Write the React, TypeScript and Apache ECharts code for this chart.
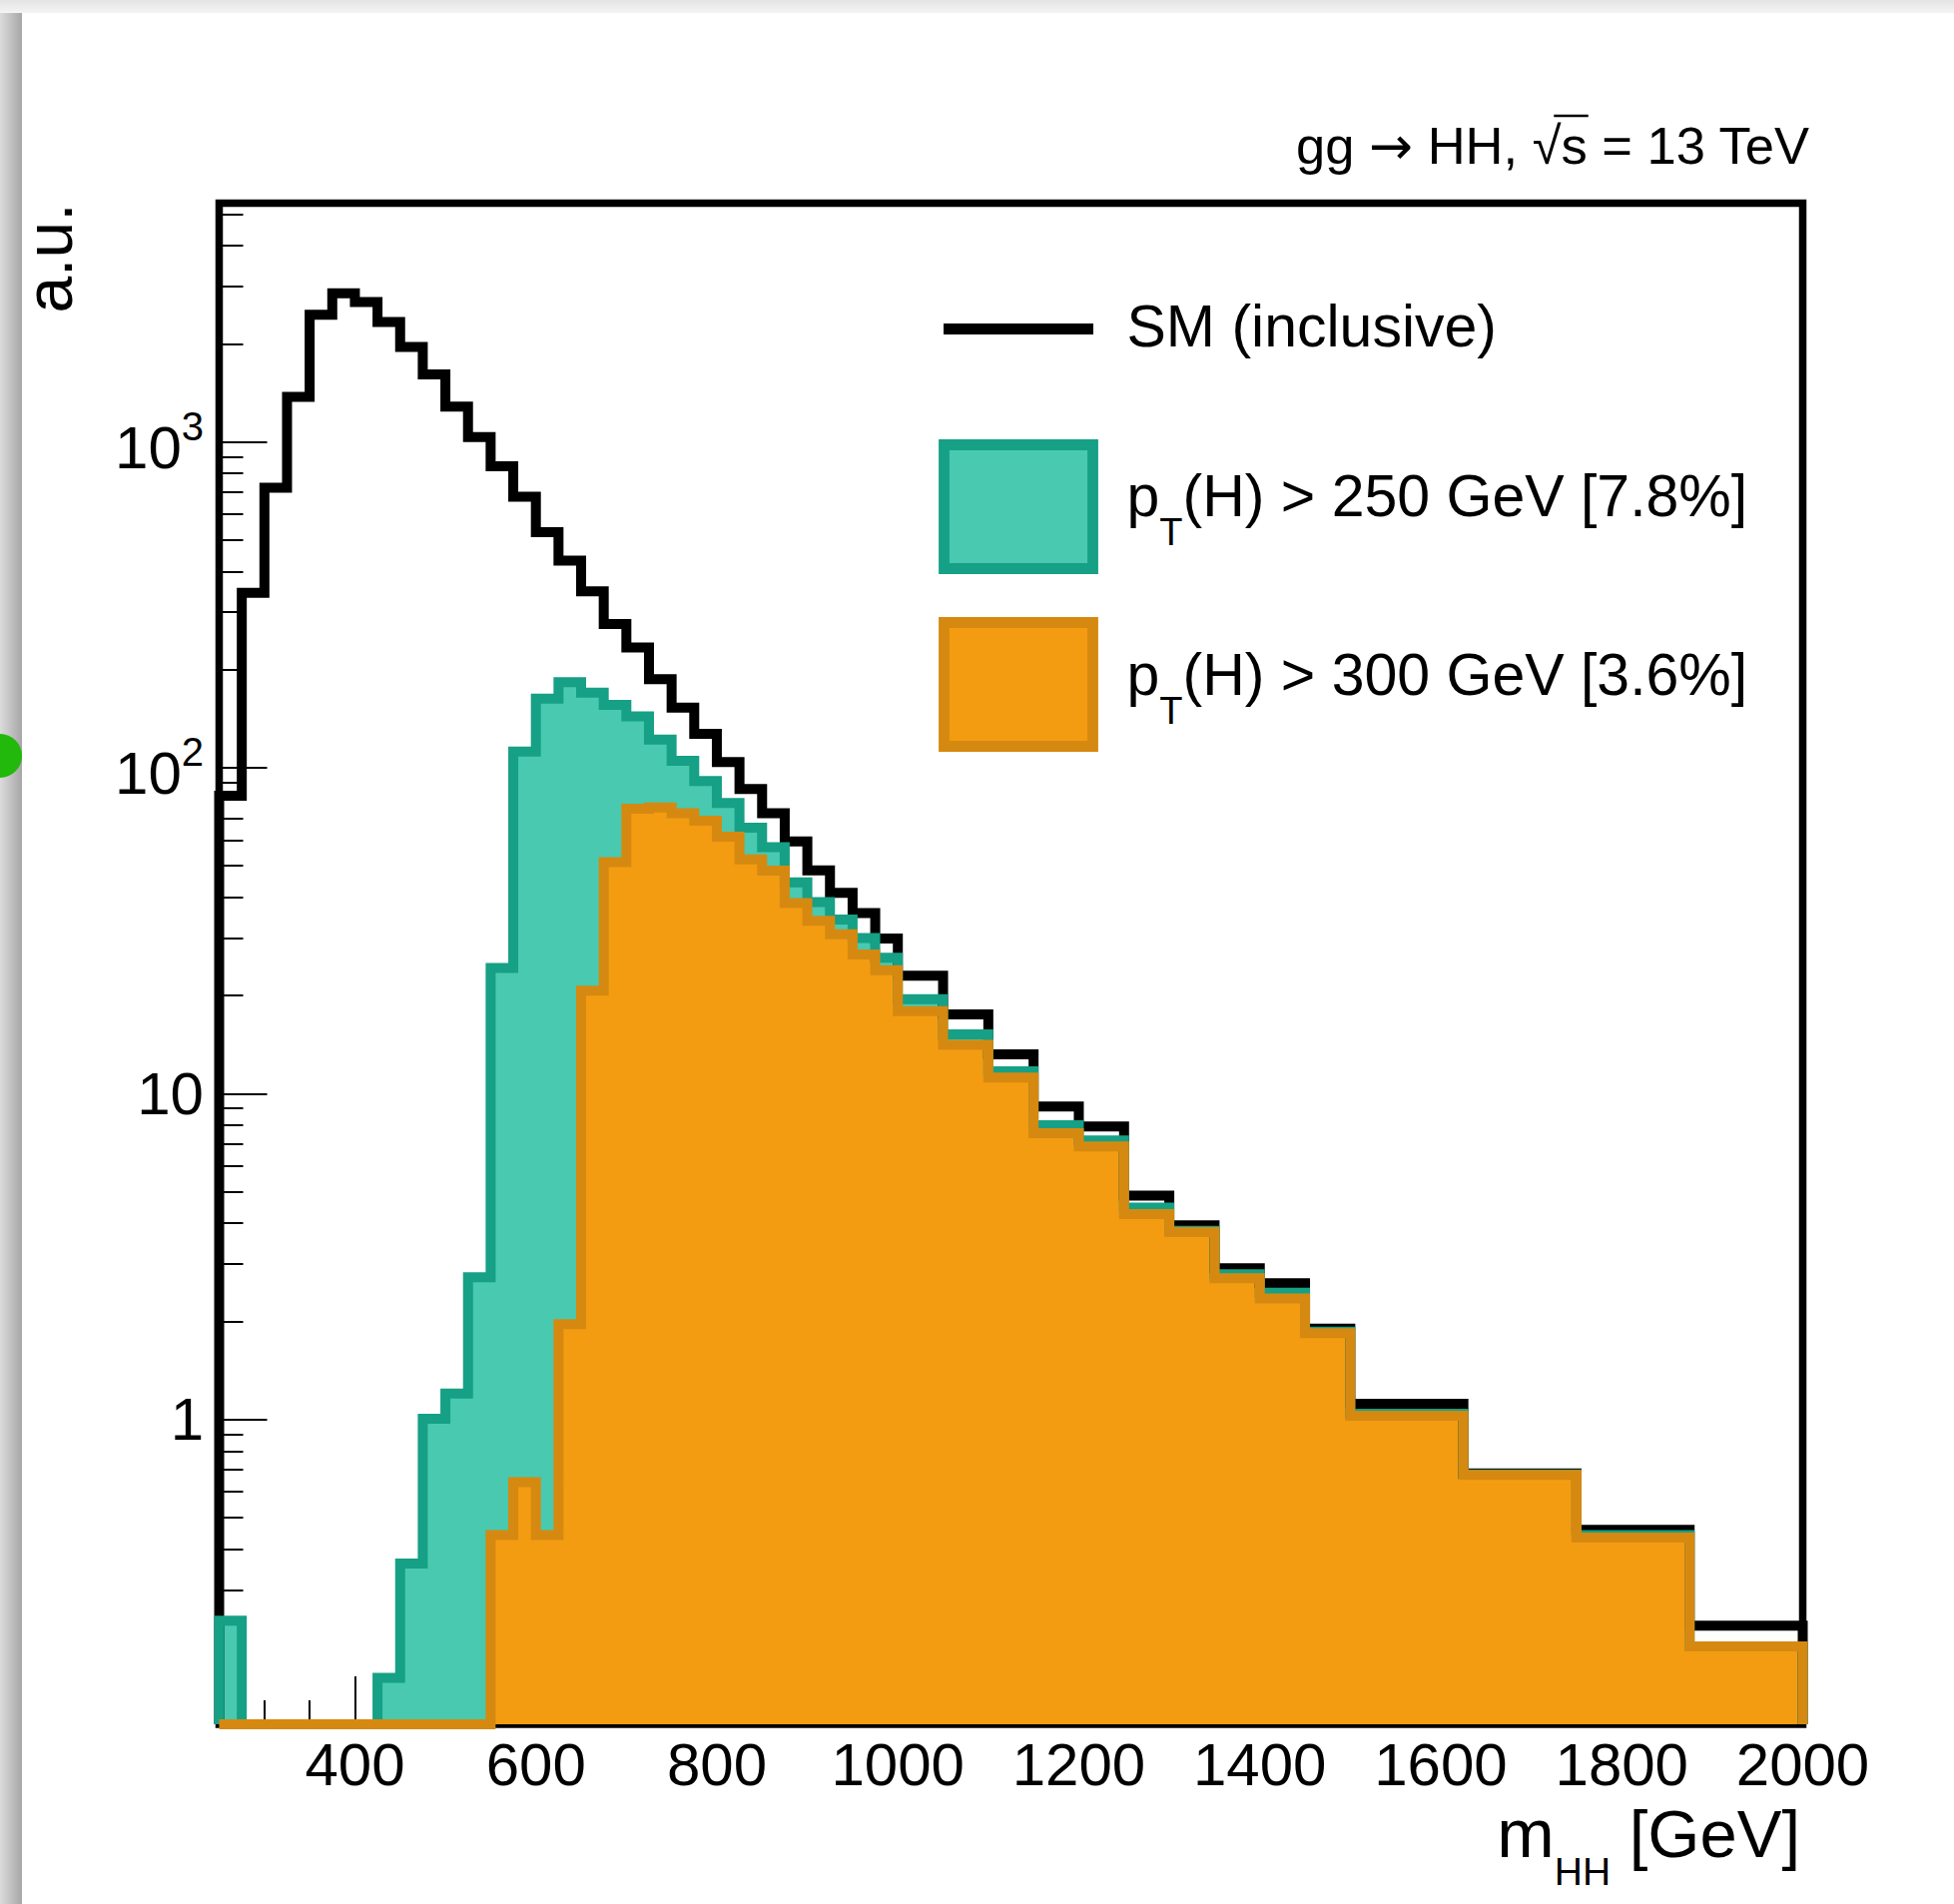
import React, { useEffect, useRef } from 'react';
import * as echarts from 'echarts';

const FONT = '"Liberation Sans", Arial, Helvetica, sans-serif';
const ARROW_FONT = '"DejaVu Sans", "Liberation Sans", sans-serif';

// histogram bin edges (GeV)
const binEdges = [
  250, 275, 300, 325, 350, 375, 400, 425, 450, 475, 500, 525, 550, 575, 600, 625, 650, 675, 700, 725,
  750, 775, 800, 825, 850, 875, 900, 925, 950, 975, 1000, 1050, 1100, 1150, 1200, 1250, 1300, 1350,
  1400, 1450, 1500, 1625, 1750, 1875, 2000,
];

// SM (inclusive)
const smValues = [
  82, 344, 723, 1375, 2455, 2855, 2688, 2334, 1956, 1609, 1282, 1034, 841, 679, 528, 432, 348, 276, 234, 187,
  153, 127, 104, 86, 72.5, 59.4, 48.4, 41.3, 35.8, 29.9, 23.0, 17.5, 13.2, 9.12, 7.92, 4.86, 3.94, 2.91,
  2.62, 1.9, 1.117, 0.683, 0.458, 0.233,
];

// pT(H) > 250 GeV
const pt250Values = [
  0.241, 0, 0, 0, 0, 0, 0, 0.161, 0.361, 1.004, 1.2, 2.73, 24.3, 112, 163, 183, 170, 156, 143.6, 122,
  105, 91, 78, 65.5, 57, 44.5, 38.7, 34.2, 30.0, 26.1, 19.5, 15.2, 11.7, 8.0, 7.18, 4.47, 3.79, 2.79,
  2.45, 1.86, 1.04, 0.678, 0.442, 0.201,
];

// pT(H) > 300 GeV
const pt300Values = [
  0, 0, 0, 0, 0, 0, 0, 0, 0, 0, 0, 0, 0.442, 0.642, 0.442, 1.96, 20.7, 51.3, 74.9, 75.5,
  72.5, 68.7, 61.4, 52.3, 48.3, 38.4, 33.9, 30.8, 26.7, 23.9, 17.9, 14.1, 11.2, 7.55, 6.88, 4.27, 3.76, 2.71,
  2.35, 1.84, 1.026, 0.675, 0.434, 0.201,
];

const xTickLabels = [400, 600, 800, 1000, 1200, 1400, 1600, 1800, 2000];
const xMinorTicks = [
  300, 350, 450, 500, 550, 650, 700, 750, 850, 900, 950, 1050, 1100, 1150, 1250, 1300, 1350,
  1450, 1500, 1550, 1650, 1700, 1750, 1850, 1900, 1950,
];
const yTickLabels = [1, 10, 100, 1000];
const yMinorTicks = [
  0.2, 0.3, 0.4, 0.5, 0.6, 0.7, 0.8, 0.9, 2, 3, 4, 5, 6, 7, 8, 9, 20, 30, 40, 50, 60, 70, 80, 90,
  200, 300, 400, 500, 600, 700, 800, 900, 2000, 3000, 4000, 5000,
];

const X_MIN = 250;
const X_MAX = 2000;
const Y_MIN = 0.116;
const Y_MAX = 5400;

const legendLabels = ['SM (inclusive)', '(H) > 250 GeV [7.8%]', '(H) > 300 GeV [3.6%]'];
const topTextParts = ['gg ', '\u2192', ' HH, \u221As = 13 TeV'];

const TEAL_FILL = '#48c9b0';
const TEAL_LINE = '#16a085';
const ORANGE_FILL = '#f39c12';
const ORANGE_LINE = '#d68910';

const GRID = { left: 219.5, top: 203.5, width: 1586, height: 1523.5 };
const CK = 0.3465; // central baseline offset (em) for Liberation Sans

let measureCtx: CanvasRenderingContext2D | null = null;
function textWidth(t: string, size: number, family = FONT): number {
  if (!measureCtx) measureCtx = document.createElement('canvas').getContext('2d');
  measureCtx!.font = `${size}px ${family}`;
  return measureCtx!.measureText(t).width;
}

function textEl(t: string, x: number, baseline: number, size: number, align = 'left', family = FONT) {
  return {
    type: 'text',
    x,
    y: baseline - CK * size,
    z: 100,
    silent: true,
    style: {
      text: t,
      font: `${size}px ${family}`,
      fill: '#000',
      align,
      textAlign: align,
      verticalAlign: 'middle',
      textVerticalAlign: 'middle',
    },
  };
}

type Piece = [string, number, number, string?];

function layoutPieces(pieces: Piece[], x0: number, alignRight = false) {
  const widths = pieces.map(([t, s, , f]) => textWidth(t, s, f || FONT));
  const total = widths.reduce((a, b) => a + b, 0);
  const starts: number[] = [];
  let x = alignRight ? x0 - total : x0;
  widths.forEach((w) => {
    starts.push(x);
    x += w;
  });
  return { widths, starts, total };
}

function piecesEls(pieces: Piece[], x0: number, baseline: number, alignRight = false) {
  const { starts } = layoutPieces(pieces, x0, alignRight);
  return pieces.map(([t, s, dy, f], i) => textEl(t, starts[i], baseline + dy, s, 'left', f || FONT));
}

function stepPoints(values: number[]) {
  const pts: number[][] = [[binEdges[0], Y_MIN]];
  for (let i = 0; i < values.length; i++) {
    pts.push([binEdges[i], values[i] > 0 ? values[i] : Y_MIN]);
  }
  pts.push([binEdges[binEdges.length - 1], Y_MIN]);
  return pts;
}

function buildOption() {
  const graphics: any[] = [];

  // top label
  const topSize = 52.5;
  const topBase = 163.3;
  const topPieces: Piece[] = [
    [topTextParts[0], topSize, 0],
    [topTextParts[1], topSize, 0, ARROW_FONT],
    [topTextParts[2], topSize, 0],
  ];
  const topLayout = layoutPieces(topPieces, 1813, true);
  graphics.push(...piecesEls(topPieces, 1813, topBase, true));
  const last = topTextParts[2];
  const rootIdx = last.indexOf('\u221A');
  const sx0 = topLayout.starts[2] + textWidth(last.slice(0, rootIdx), topSize);
  const sx1 = topLayout.starts[2] + textWidth(last.slice(0, rootIdx + 2), topSize);
  const rootW = textWidth('\u221A', topSize);
  graphics.push({
    type: 'line',
    z: 100,
    silent: true,
    shape: { x1: sx0 + rootW * 0.75, y1: topBase - 0.9 * topSize, x2: sx1 + 1, y2: topBase - 0.9 * topSize },
    style: { stroke: '#000', lineWidth: 2.5 },
  });

  // y title
  graphics.push({
    type: 'text',
    x: 49.1,
    y: 203.5,
    rotation: Math.PI / 2,
    z: 100,
    silent: true,
    style: {
      text: 'a.u.',
      font: `66px ${FONT}`,
      fill: '#000',
      align: 'right',
      textAlign: 'right',
      verticalAlign: 'middle',
      textVerticalAlign: 'middle',
    },
  });

  // x title
  graphics.push(
    ...piecesEls(
      [
        ['m', 69, 0],
        ['HH', 39, 28.3],
        [' [GeV]', 67, 0],
      ],
      1803,
      1860,
      true
    )
  );

  // legend
  graphics.push({
    type: 'line',
    z: 100,
    silent: true,
    shape: { x1: 945, y1: 329.5, x2: 1095, y2: 329.5 },
    style: { stroke: '#000', lineWidth: 11 },
  });
  graphics.push(textEl(legendLabels[0], 1128.5, 347, 59));

  graphics.push({
    type: 'rect',
    z: 100,
    silent: true,
    shape: { x: 945.5, y: 445.5, width: 149, height: 124 },
    style: { fill: TEAL_FILL, stroke: TEAL_LINE, lineWidth: 10.8 },
  });
  graphics.push(
    ...piecesEls(
      [
        ['p', 59, 0],
        ['T', 38, 28.3],
        [legendLabels[1], 59, 0],
      ],
      1128.5,
      517.5
    )
  );

  graphics.push({
    type: 'rect',
    z: 100,
    silent: true,
    shape: { x: 945.5, y: 623.5, width: 149, height: 124 },
    style: { fill: ORANGE_FILL, stroke: ORANGE_LINE, lineWidth: 10.8 },
  });
  graphics.push(
    ...piecesEls(
      [
        ['p', 59, 0],
        ['T', 38, 28.3],
        [legendLabels[2], 59, 0],
      ],
      1128.5,
      696.5
    )
  );

  const tickLabelStyle = { fontSize: 60, fontFamily: FONT, color: '#000' };

  return {
    animation: false,
    backgroundColor: 'transparent',
    grid: [
      {
        ...GRID,
        show: true,
        borderColor: '#000',
        borderWidth: 7.5,
        backgroundColor: 'transparent',
        containLabel: false,
        outerBoundsMode: 'none',
      },
      { ...GRID, show: false, containLabel: false, outerBoundsMode: 'none' },
    ],
    xAxis: [
      {
        type: 'value',
        gridIndex: 0,
        min: X_MIN,
        max: X_MAX,
        position: 'bottom',
        axisLine: { show: false },
        splitLine: { show: false },
        axisTick: {
          show: true,
          inside: true,
          length: 48,
          customValues: xTickLabels,
          lineStyle: { color: '#000', width: 2 },
        },
        axisLabel: {
          show: true,
          customValues: xTickLabels,
          margin: 10,
          formatter: (v: number) => String(Math.round(v)),
          ...tickLabelStyle,
        },
      },
      {
        type: 'value',
        gridIndex: 1,
        min: X_MIN,
        max: X_MAX,
        position: 'bottom',
        axisLine: { show: false },
        splitLine: { show: false },
        axisTick: {
          show: true,
          inside: true,
          length: 24,
          customValues: xMinorTicks,
          lineStyle: { color: '#000', width: 2 },
        },
        axisLabel: { show: false },
      },
    ],
    yAxis: [
      {
        type: 'log',
        logBase: 10,
        gridIndex: 0,
        min: Y_MIN,
        max: Y_MAX,
        position: 'left',
        axisLine: { show: false },
        splitLine: { show: false },
        axisTick: {
          show: true,
          inside: true,
          length: 48,
          customValues: yTickLabels,
          lineStyle: { color: '#000', width: 2 },
        },
        axisLabel: {
          show: true,
          customValues: yTickLabels,
          margin: 15.5,
          color: '#000',
          fontFamily: FONT,
          fontSize: 60,
          formatter: (v: number) => {
            const e = Math.round(Math.log10(v));
            return e >= 2 ? `{b|10}{s|${e}}` : `{p|${Math.round(v)}}`;
          },
          rich: {
            b: { fontSize: 60, fontFamily: FONT, color: '#000', lineHeight: 72, verticalAlign: 'bottom' },
            s: { fontSize: 40, fontFamily: FONT, color: '#000', verticalAlign: 'top' },
            p: { fontSize: 60, fontFamily: FONT, color: '#000' },
          },
        },
      },
      {
        type: 'log',
        logBase: 10,
        gridIndex: 1,
        min: Y_MIN,
        max: Y_MAX,
        position: 'left',
        axisLine: { show: false },
        splitLine: { show: false },
        axisTick: {
          show: true,
          inside: true,
          length: 24,
          customValues: yMinorTicks,
          lineStyle: { color: '#000', width: 2 },
        },
        axisLabel: { show: false },
      },
    ],
    series: [
      {
        name: 'SM (inclusive)',
        type: 'line',
        xAxisIndex: 0,
        yAxisIndex: 0,
        step: 'end',
        symbol: 'none',
        showSymbol: false,
        silent: true,
        clip: true,
        data: stepPoints(smValues),
        lineStyle: { color: '#000', width: 10, join: 'miter', cap: 'butt' },
      },
      {
        name: 'pT(H) > 250 GeV',
        type: 'line',
        xAxisIndex: 0,
        yAxisIndex: 0,
        step: 'end',
        symbol: 'none',
        showSymbol: false,
        silent: true,
        clip: true,
        data: stepPoints(pt250Values),
        lineStyle: { color: TEAL_LINE, width: 10, join: 'miter', cap: 'butt' },
        areaStyle: { color: TEAL_FILL, opacity: 1, origin: 'start' },
      },
      {
        name: 'pT(H) > 300 GeV',
        type: 'line',
        xAxisIndex: 0,
        yAxisIndex: 0,
        step: 'end',
        symbol: 'none',
        showSymbol: false,
        silent: true,
        clip: true,
        data: stepPoints(pt300Values),
        lineStyle: { color: ORANGE_LINE, width: 10, join: 'miter', cap: 'butt' },
        areaStyle: { color: ORANGE_FILL, opacity: 1, origin: 'start' },
      },
    ],
    graphic: { elements: graphics },
  };
}

export default function App() {
  const ref = useRef<HTMLDivElement>(null);
  useEffect(() => {
    const chart = echarts.init(ref.current!, null, { renderer: 'svg' });
    chart.setOption(buildOption() as any);
    return () => chart.dispose();
  }, []);
  return (
    <div
      style={{
        position: 'fixed',
        left: 0,
        top: 0,
        width: 1957,
        height: 1907,
        background: '#ececec',
        overflow: 'hidden',
      }}
    >
      <div
        style={{
          position: 'absolute',
          left: 0,
          top: 0,
          width: 1957,
          height: 13,
          background: 'linear-gradient(#e4e4e4, #f4f4f4)',
        }}
      />
      <div
        style={{
          position: 'absolute',
          left: 0,
          top: 13,
          width: 22,
          height: 1894,
          background: 'linear-gradient(to right, #dcdcdc, #a6a6a6)',
        }}
      />
      <div style={{ position: 'absolute', left: 22, top: 13, right: 0, bottom: 0, background: '#ffffff' }} />
      <div
        style={{
          position: 'absolute',
          left: -22,
          top: 735,
          width: 44,
          height: 44,
          borderRadius: '50%',
          background: '#22b80c',
        }}
      />
      <div ref={ref} style={{ position: 'absolute', left: 0, top: 0, width: 1957, height: 1907 }} />
    </div>
  );
}
